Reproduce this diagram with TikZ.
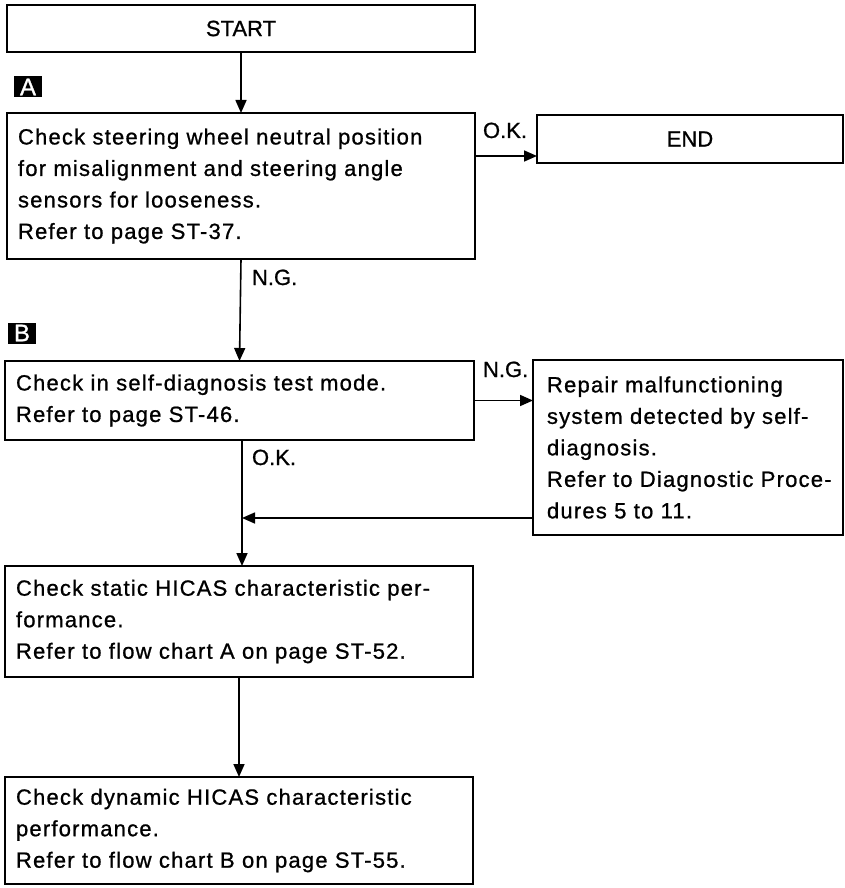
\documentclass[tikz,border=0pt]{standalone}
\usepackage{fontspec}
\newfontfamily\df[LetterSpace=5.5,FakeBold=0.9]{Liberation Sans}
\newfontfamily\dfl[FakeBold=0.9]{Liberation Sans}
\usetikzlibrary{arrows.meta}
\begin{document}
\begin{tikzpicture}[x=1pt,y=-1pt,
  every node/.style={font=\df\fontsize{22}{31.5}\selectfont, outer sep=0pt},
  fbox/.style={draw, line width=1.8pt, anchor=north west, align=left, inner xsep=11pt, inner ysep=0pt},
  tbox/.style={draw, line width=1.8pt, anchor=north west, align=center, inner sep=0pt, font=\dfl\fontsize{22}{24}\selectfont},
  arr/.style={line width=1.6pt, -{Triangle[length=13pt,width=11pt]}},
  lbl/.style={anchor=base west, inner sep=0pt, font=\dfl\fontsize{22}{24}\selectfont},
  tag/.style={fill=black, text=white, minimum width=28pt, minimum height=21pt, inner sep=0pt, font=\dfl\fontsize{24}{24}\selectfont}
]
\useasboundingbox (0,0) rectangle (845,888);
\fill[white] (0,0) rectangle (845,888);

\node[tbox, minimum width=468pt, minimum height=47pt] (start) at (7,5) {START};
\node[tag] (ta) at (28,87) {A};
\node[fbox, text width=446pt, minimum height=146pt] (box1) at (7,113)
  {Check steering wheel neutral position\\for misalignment and steering angle\\sensors for looseness.\\Refer to page ST-37.};
\node[tbox, minimum width=306pt, minimum height=48pt] (endb) at (537,115) {END};
\node[tag] (tb) at (22,333) {B};
\node[fbox, text width=447pt, minimum height=79pt] (box2) at (5,361)
  {Check in self-diagnosis test mode.\\Refer to page ST-46.};
\node[fbox, inner xsep=14pt, text width=282pt, minimum height=175pt] (box3) at (533,360)
  {\mbox{Repair malfunctioning}\\\mbox{system detected by self-}\\\mbox{diagnosis.}\\\mbox{Refer to Diagnostic Proce-}\\\mbox{dures 5 to 11.}};
\node[fbox, text width=446pt, minimum height=111pt] (box4) at (5,566)
  {Check static HICAS characteristic per-\\formance.\\Refer to flow chart A on page ST-52.};
\node[fbox, text width=446pt, minimum height=107pt] (box5) at (5,777)
  {Check dynamic HICAS characteristic\\performance.\\Refer to flow chart B on page ST-55.};

\coordinate (okin) at ([yshift=-17pt]endb.west);
\coordinate (j) at (242,518);

\draw[arr] (start.south) -- (box1.north);
\draw[arr] (box1.east |- okin) -- (okin);
\draw[arr] (box1.south) -- (box2.north);
\draw[arr] (box2.east) -- (box2.east -| box3.west);
\draw[line width=1.6pt] (j |- box2.south) -- (j);
\draw[arr] (j) -- (j |- box4.north);
\draw[arr] (box3.west |- j) -- (j);
\draw[arr] (box4.south) -- (box5.north);

\node[lbl] (l1) at (483,138) {O.K.};
\node[lbl] (l2) at (252,285) {N.G.};
\node[lbl] (l3) at (483,377) {N.G.};
\node[lbl] (l4) at (252,465) {O.K.};
\end{tikzpicture}
\end{document}
